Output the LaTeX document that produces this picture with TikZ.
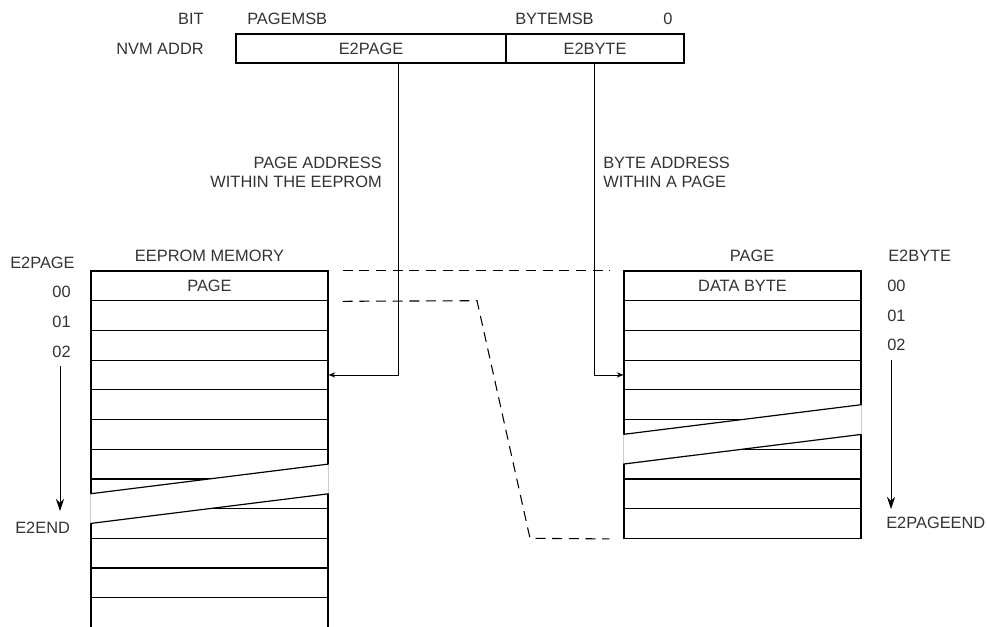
\documentclass[tikz,border=0pt]{standalone}
\usepackage{fontspec}
\setmainfont{Liberation Sans}
\usetikzlibrary{arrows.meta,calc}

\begin{document}
\begin{tikzpicture}[x=0.75pt,y=-0.75pt,
  txt/.style={font=\fontsize{12.3}{14.25}\selectfont,text=black!80,inner sep=0pt},
  regbox/.style={draw,line width=0.9pt,minimum height=21.75pt,inner sep=0pt,
                 font=\fontsize{12.3}{14.25}\selectfont,text=black!80},
  cell/.style={draw,line width=0.9pt,minimum width=177.75pt,minimum height=22.275pt,
               inner sep=0pt,font=\fontsize{12.3}{14.25}\selectfont,text=black!80},
  tap/.style={line width=0.6pt,-{Stealth[length=5pt,width=4pt]}},
  runarrow/.style={line width=0.6pt,-{Stealth[length=9pt,width=6pt]}},
  link/.style={line width=0.8pt,dash pattern=on 7.5pt off 5pt}]
  \useasboundingbox (0,0) rectangle (987,626);

  % NVM address register
  \node[txt,anchor=east] (bit) at (204,19) {BIT};
  \node[txt,anchor=east] (nvm) at (204,48.5) {NVM ADDR};
  \node[txt,anchor=west] (pmsb) at (247,19) {PAGEMSB};
  \node[txt,anchor=west] (bmsb) at (515,19) {BYTEMSB};
  \node[txt] (lsb) at (668,19) {0};
  \node[regbox,minimum width=202.5pt] (regpage) at (371,48.5) {E2PAGE};
  \node[regbox,minimum width=133.5pt] (regbyte) at (595,48.5) {E2BYTE};

  % EEPROM memory, one row per page
  \node[cell] (l0) at (209.5,285.85) {PAGE};
  \foreach \i in {1,...,11}
    \node[cell] (l\i) at (209.5,285.85+29.7*\i) {};
  \fill[white] ([xshift=-1pt]l7.west) -- ([xshift=1pt]l6.east)
    -- ([xshift=1pt]l7.east) -- ([xshift=-1pt]l8.west) -- cycle;
  \draw[gray!40,line width=0.6pt] (l7.west) -- (l8.west) (l6.east) -- (l7.east);
  \draw[line width=0.9pt] (l7.west) -- (l6.east) (l8.west) -- (l7.east);

  % one page, one row per data byte
  \node[cell] (r0) at (742.5,285.85) {DATA BYTE};
  \foreach \i in {1,...,8}
    \node[cell] (r\i) at (742.5,285.85+29.7*\i) {};
  \fill[white] ([xshift=-1pt]r5.west) -- ([xshift=1pt]r4.east)
    -- ([xshift=1pt]r5.east) -- ([xshift=-1pt]r6.west) -- cycle;
  \draw[gray!40,line width=0.6pt] (r5.west) -- (r6.west) (r4.east) -- (r5.east);
  \draw[line width=0.9pt] (r5.west) -- (r4.east) (r6.west) -- (r5.east);

  % address fields select page and byte
  \draw[tap] ($(regpage.south)+(27,0)$) |- (l3.east);
  \draw[tap] ($(regbyte.south)+(-1,0)$) |- (r3.west);
  \node[txt,align=right,anchor=east] (pageaddr) at (382,172.5)
    {PAGE ADDRESS\\WITHIN THE EEPROM};
  \node[txt,align=left,anchor=west] (byteaddr) at (603,172.5)
    {BYTE ADDRESS\\WITHIN A PAGE};

  % left index column
  \node[txt,anchor=west] (lhead) at (10,263) {E2PAGE};
  \node[txt] (ltitle) at (209.5,256) {EEPROM MEMORY};
  \foreach \i/\t in {0/00,1/01,2/02}
    \node[txt,anchor=east] (lidx\i) at (71,292+29.7*\i) {\t};
  \node[txt,anchor=west] (lend) at (15,528) {E2END};
  \coordinate (lrun0) at (60,366);
  \coordinate (lrun1) at (60,511);
  \draw[runarrow] (lrun0) -- (lrun1);

  % right index column
  \node[txt] (rtitle) at (752,256) {PAGE};
  \node[txt,anchor=west] (rhead) at (888,256) {E2BYTE};
  \foreach \i/\t in {0/00,1/01,2/02}
    \node[txt,anchor=west] (ridx\i) at (887,286+29.6*\i) {\t};
  \node[txt,anchor=west] (rend) at (886,523) {E2PAGEEND};
  \coordinate (rrun0) at (891,360);
  \coordinate (rrun1) at (891,509);
  \draw[runarrow] (rrun0) -- (rrun1);

  % zoom lines from one page to its bytes
  \coordinate (bend0) at (477,300.7);
  \coordinate (bend1) at (530,538.3);
  \draw[link] ($(l0.north east)+(14,0)$) -- ($(r0.north west)+(-14,0)$);
  \draw[link] ($(l0.south east)+(14,0)$) -- (bend0) -- (bend1)
    -- ($(r8.south west)+(-14,0)$);
\end{tikzpicture}
\end{document}
